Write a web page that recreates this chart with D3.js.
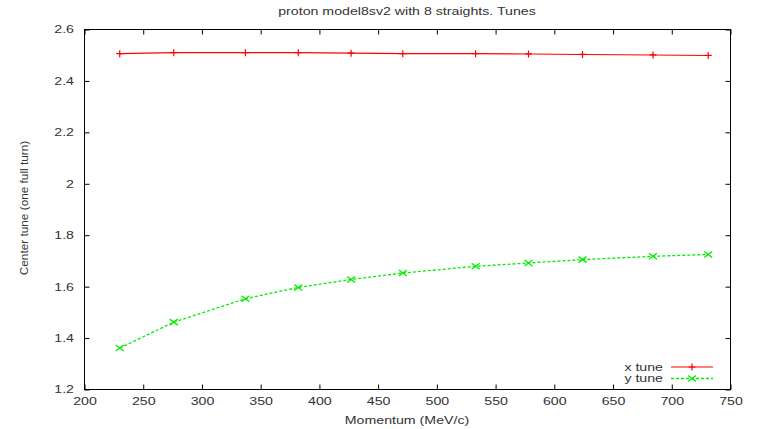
<!DOCTYPE html>
<html>
<head>
<meta charset="utf-8">
<script src="https://cdn.jsdelivr.net/npm/d3@7"></script>
<style>
  html, body { margin: 0; padding: 0; background: #fff; }
  svg text { font-family: "Liberation Sans", Arial, Helvetica, sans-serif; }
</style>
</head>
<body>
<svg id="chart" width="759" height="429"></svg>
<script>
// Momentum scan points (MeV/c)
const momentum = [230, 276, 337, 382, 427, 471, 533, 578, 624, 684, 731];
// Horizontal tune per momentum
const xTune = [2.506, 2.510, 2.510, 2.510, 2.508, 2.506, 2.506, 2.505, 2.503, 2.501, 2.499];
// Vertical tune per momentum
const yTune = [1.361, 1.462, 1.553, 1.597, 1.628, 1.653, 1.679, 1.692, 1.705, 1.718, 1.725];

const xTicks = [200, 250, 300, 350, 400, 450, 500, 550, 600, 650, 700, 750];
const yTicks = [1.2, 1.4, 1.6, 1.8, 2.0, 2.2, 2.4, 2.6];

const titleText = "proton model8sv2 with 8 straights. Tunes";
const xLabel = "Momentum (MeV/c)";
const yLabel = "Center tune (one full turn)";
const seriesNames = ["x tune", "y tune"];

(function () {
const svg = d3.select("#chart");
const plotLeft = 84.5, plotRight = 730.5, plotTop = 29.5, plotBottom = 389.5;

const x = d3.scaleLinear().domain([200, 750]).range([plotLeft, plotRight]);
const y = d3.scaleLinear().domain([1.2, 2.6]).range([plotBottom, plotTop]);

const textColor = "#333";
const fontSize = 10.5;
const sx = 1.35;          // wide lettering
const tickLen = 5;

// Text placed at (px, py), widened horizontally
function label(px, py, str, anchor) {
  svg.append("g").attr("transform", `translate(${px},${py}) scale(${sx},1)`)
    .append("text").attr("text-anchor", anchor).attr("font-size", fontSize)
    .attr("fill", textColor).text(str);
}

// Frame
svg.append("rect")
  .attr("x", plotLeft).attr("y", plotTop)
  .attr("width", plotRight - plotLeft).attr("height", plotBottom - plotTop)
  .attr("fill", "none").attr("stroke", "#000").attr("stroke-width", 1);

// Bottom axis with inward ticks
const gx = svg.append("g").attr("transform", `translate(0,${plotBottom})`)
  .call(d3.axisBottom(x).tickValues(xTicks).tickSizeInner(-tickLen).tickSizeOuter(0).tickPadding(8.5).tickFormat(d3.format("d")));
gx.select(".domain").remove();
gx.selectAll("line").attr("stroke", "#000");
gx.selectAll("text").attr("fill", textColor).attr("font-size", fontSize)
  .attr("transform", `scale(${sx},1)`);

// Top mirror ticks
const gxt = svg.append("g").attr("transform", `translate(0,${plotTop})`)
  .call(d3.axisTop(x).tickValues(xTicks).tickSizeInner(-tickLen).tickSizeOuter(0).tickFormat(""));
gxt.select(".domain").remove();
gxt.selectAll("line").attr("stroke", "#000");

// Left axis
const gy = svg.append("g").attr("transform", `translate(${plotLeft},0)`)
  .call(d3.axisLeft(y).tickValues(yTicks).tickSizeInner(-tickLen).tickSizeOuter(0).tickFormat(d3.format("")));
gy.select(".domain").remove();
gy.selectAll("line").attr("stroke", "#000");
gy.selectAll("text").attr("fill", textColor).attr("font-size", fontSize)
  .attr("x", -10.5 / sx).attr("transform", `scale(${sx},1)`);

// Right mirror ticks
const gyr = svg.append("g").attr("transform", `translate(${plotRight},0)`)
  .call(d3.axisRight(y).tickValues(yTicks).tickSizeInner(-tickLen).tickSizeOuter(0).tickFormat(""));
gyr.select(".domain").remove();
gyr.selectAll("line").attr("stroke", "#000");

// Title and axis labels
label(407, 15, titleText, "middle");
label(407, 424, xLabel, "middle");
svg.append("text").attr("transform", "translate(28,208) rotate(-90)").attr("text-anchor", "middle")
  .attr("font-size", 11.8).attr("fill", textColor).text(yLabel);

const line = d3.line().x(d => x(d[0])).y(d => y(d[1]));
const red = "#ff0000", green = "#00ee00";

const xs = momentum.map((m, i) => [m, xTune[i]]);
const ys = momentum.map((m, i) => [m, yTune[i]]);

function plus(g, cx, cy, c) {
  g.append("path").attr("d", `M${cx - 3.5},${cy}H${cx + 3.5}M${cx},${cy - 3.5}V${cy + 3.5}`)
    .attr("stroke", c).attr("stroke-width", 1.2).attr("fill", "none");
}
function cross(g, cx, cy, c) {
  g.append("path").attr("d", `M${cx - 4},${cy - 3}L${cx + 4},${cy + 3}M${cx - 4},${cy + 3}L${cx + 4},${cy - 3}`)
    .attr("stroke", c).attr("stroke-width", 1.3).attr("fill", "none");
}

// x tune: solid red line with + markers
svg.append("path").datum(xs).attr("d", line)
  .attr("fill", "none").attr("stroke", red).attr("stroke-width", 1.1);
const gm1 = svg.append("g");
xs.forEach(d => plus(gm1, x(d[0]), y(d[1]), red));

// y tune: dashed green line with x markers
svg.append("path").datum(ys).attr("d", line)
  .attr("fill", "none").attr("stroke", green).attr("stroke-width", 1.3)
  .attr("stroke-dasharray", "3,2");
const gm2 = svg.append("g");
ys.forEach(d => cross(gm2, x(d[0]), y(d[1]), green));

// Legend
const lg = svg.append("g");
const lx0 = 671, lx1 = 713, lmid = 692;
const rows = [367, 378.5];
label(663, rows[0] + 4, seriesNames[0], "end");
label(663, rows[1] + 3.5, seriesNames[1], "end");
lg.append("line").attr("x1", lx0).attr("x2", lx1).attr("y1", rows[0]).attr("y2", rows[0])
  .attr("stroke", red).attr("stroke-width", 1.1);
plus(lg, lmid, rows[0], red);
lg.append("line").attr("x1", lx0).attr("x2", lx1).attr("y1", rows[1]).attr("y2", rows[1])
  .attr("stroke", green).attr("stroke-width", 1.3).attr("stroke-dasharray", "3,2");
cross(lg, lmid, rows[1], green);
})();
</script>
</body>
</html>
